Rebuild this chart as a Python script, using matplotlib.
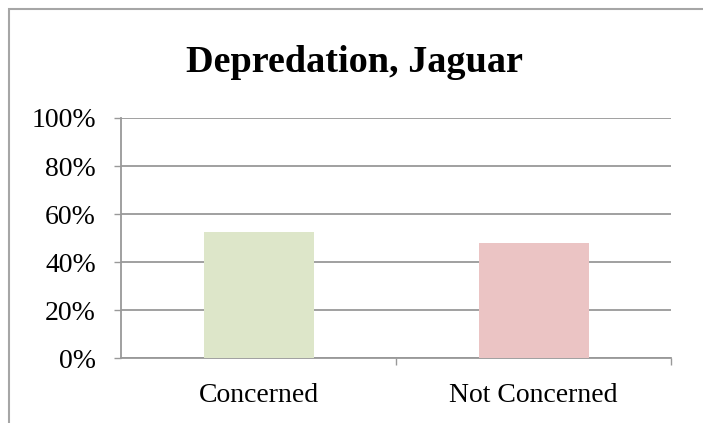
import matplotlib
matplotlib.use("Agg")
import matplotlib.pyplot as plt
from matplotlib.patches import Rectangle
from matplotlib.ticker import FuncFormatter, FixedLocator

categories = ["Concerned", "Not Concerned"]
values = [52.3, 47.8]
colors = ["#dde6c9", "#ebc4c4"]
title = "Depredation, Jaguar"
yticks = [0, 20, 40, 60, 80, 100]

W, H = 703, 423
fig = plt.figure(figsize=(W / 100, H / 100), dpi=100)
fig.patch.set_facecolor("white")

# outer chart border
fig.patches.append(Rectangle((9 / W, -0.2), 1.2, (H - 9) / H + 0.2,
                             transform=fig.transFigure, fill=False,
                             edgecolor="#a6a6a6", linewidth=1.5))

ax = fig.add_axes([121 / W, 65 / H, 550 / W, 240 / H])
x = list(range(len(categories)))
ax.bar(x, values, width=0.40, color=colors, zorder=3)
ax.set_xlim(-0.5, len(categories) - 0.5)
ax.set_ylim(0, 100)
ax.set_yticks(yticks)
ax.yaxis.set_major_formatter(FuncFormatter(lambda v, p: f"{int(v)}%"))
ax.set_xticks(x)
ax.set_xticklabels(categories)
ax.xaxis.set_minor_locator(FixedLocator([0.5, 1.5]))
ax.tick_params(axis="x", which="major", length=0, pad=18)
ax.tick_params(axis="x", which="minor", length=5, width=1.0, color="#999999")
ax.tick_params(axis="y", length=5, width=1.0, color="#999999", pad=13)
for lab in ax.get_xticklabels() + ax.get_yticklabels():
    lab.set_fontfamily("Liberation Serif")
    lab.set_fontsize(20)
ax.grid(axis="y", color="#999999", linewidth=1.3, zorder=0)
for s in ["top", "right"]:
    ax.spines[s].set_visible(False)
for s in ["left", "bottom"]:
    ax.spines[s].set_color("#999999")
    ax.spines[s].set_linewidth(1.3)

fig.text(354 / W, (H - 72) / H, title, ha="center", va="baseline",
         fontfamily="Liberation Serif", fontweight="bold", fontsize=27.5)

fig.savefig("out.png", dpi=100)
